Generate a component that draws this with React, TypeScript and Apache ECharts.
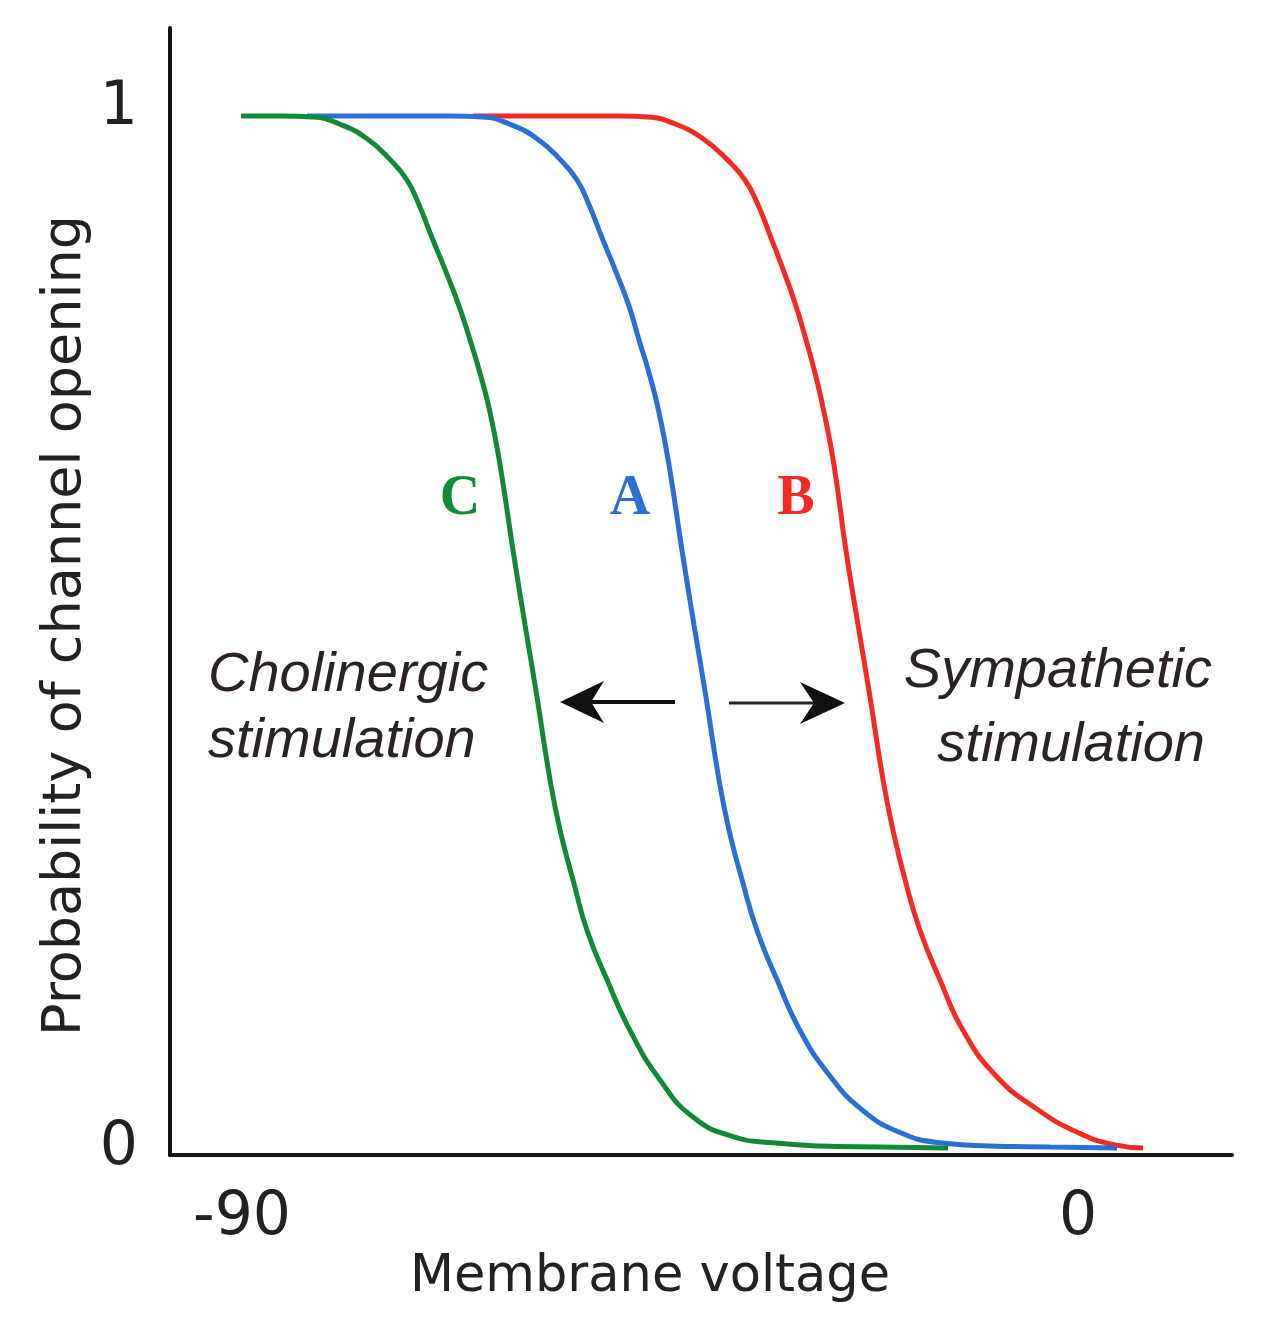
import React, { useEffect, useRef } from "react";
import * as echarts from "echarts";

// Membrane voltage (mV) vs probability of channel opening
const curveA_x = [-83.0, -73.0, -67.6, -64.05, -61.15, -58.24, -55.76, -53.93, -52.64, -51.24, -49.74, -48.34, -47.26, -46.18, -45.11, -44.03, -42.63, -41.34, -40.05, -38.65, -37.57, -36.17, -34.56, -32.4, -29.93, -26.81, -23.25, -19.16, -14.86, -9.47, -3.01, 4.2];
const curveA_y = [1.0, 1.0, 1.0, 0.999, 0.992, 0.978, 0.958, 0.938, 0.914, 0.882, 0.849, 0.816, 0.783, 0.751, 0.713, 0.662, 0.579, 0.507, 0.437, 0.357, 0.308, 0.26, 0.211, 0.163, 0.114, 0.071, 0.037, 0.015, 0.005, 0.002, 0.001, 0.0];

const curveB_x = [-65.13, -55.76, -49.31, -46.29, -43.28, -40.37, -37.79, -35.85, -34.45, -33.05, -31.65, -30.36, -29.28, -28.31, -27.34, -26.27, -24.98, -23.68, -22.39, -20.99, -19.92, -18.62, -17.01, -14.86, -12.38, -8.94, -4.63, 0.22, 3.98, 7.0];
const curveB_y = [1.0, 1.0, 1.0, 0.999, 0.992, 0.978, 0.958, 0.938, 0.914, 0.882, 0.849, 0.816, 0.783, 0.751, 0.713, 0.662, 0.579, 0.507, 0.437, 0.357, 0.308, 0.26, 0.211, 0.163, 0.114, 0.071, 0.039, 0.014, 0.003, 0.0];

const curveC_x = [-90.11, -85.91, -82.36, -79.45, -76.54, -74.07, -72.24, -70.94, -69.54, -68.04, -66.64, -65.45, -64.38, -63.3, -62.22, -60.82, -59.53, -58.24, -56.84, -55.76, -54.37, -52.86, -50.7, -48.23, -45.0, -41.45, -37.14, -32.83, -27.77, -21.32, -13.99];
const curveC_y = [1.0, 1.0, 0.999, 0.992, 0.978, 0.958, 0.938, 0.914, 0.882, 0.849, 0.816, 0.783, 0.751, 0.713, 0.662, 0.579, 0.507, 0.437, 0.357, 0.308, 0.26, 0.211, 0.163, 0.114, 0.066, 0.03, 0.011, 0.005, 0.002, 0.001, 0.0];

const xTickValues = [-90, 0];
const xTickLabels = ["-90", "0"];
const yTickValues = [0, 1];
const yTickLabels = ["0", "1"];

const curveNames = ["A", "B", "C"];
const curveColors = { A: "#2b6fd3", B: "#f42b24", C: "#138838" };

const zip = (xs: number[], ys: number[]) => xs.map((x, i) => [x, ys[i]]);

export default function App() {
  const ref = useRef<HTMLDivElement>(null);

  useEffect(() => {
    if (!ref.current) return;
    const chart = echarts.init(ref.current, null, { renderer: "svg" });

    const lineSeries = (name: string, data: number[][], z: number) => ({
      name,
      type: "line",
      data,
      showSymbol: false,
      smooth: 0.5,
      z,
      lineStyle: { color: (curveColors as any)[name], width: 5 },
      itemStyle: { color: (curveColors as any)[name] },
    });

    const italic = {
      fontFamily: "Liberation Sans",
      fontStyle: "italic",
      fontSize: 56,
      fill: "#2a2226",
      verticalAlign: "middle",
    };
    const letter = {
      fontFamily: "Liberation Serif",
      fontWeight: "bold",
      fontSize: 56,
      align: "center",
      verticalAlign: "middle",
    };

    chart.setOption({
      animation: false,
      backgroundColor: "#ffffff",
      grid: { left: 170, right: 46, top: 28, bottom: 177, containLabel: false },
      xAxis: {
        type: "value",
        min: -97.75,
        max: 16.58,
        splitLine: { show: false },
        axisTick: { show: false },
        axisLine: { show: true, onZero: false, lineStyle: { color: "#141414", width: 4 } },
        axisLabel: {
          customValues: xTickValues,
          formatter: (v: number) => xTickLabels[xTickValues.indexOf(v)] ?? "",
          fontFamily: "DejaVu Sans",
          fontSize: 60,
          color: "#222222",
          margin: 28,
        },
        name: "Membrane voltage",
        nameLocation: "middle",
        nameGap: 92,
        nameTextStyle: {
          fontFamily: "DejaVu Sans",
          fontSize: 51,
          color: "#222222",
          padding: [0, 102, 0, 0],
        },
      },
      yAxis: {
        type: "value",
        min: -0.00678,
        max: 1.0853,
        splitLine: { show: false },
        axisTick: { show: false },
        axisLine: { show: true, onZero: false, lineStyle: { color: "#141414", width: 4 } },
        axisLabel: {
          customValues: yTickValues,
          formatter: (v: number) =>
            v === 1 ? "{one|" + yTickLabels[1] + "}" : "{zero|" + yTickLabels[0] + "}",
          fontFamily: "DejaVu Sans",
          fontSize: 60,
          color: "#222222",
          margin: 32,
          rich: {
            one: { fontFamily: "DejaVu Sans", fontSize: 60, color: "#222222", padding: [0, 0, 26, 0] },
            zero: { fontFamily: "DejaVu Sans", fontSize: 60, color: "#222222", padding: [0, 0, 10, 0] },
          },
        },
        name: "Probability of channel opening",
        nameLocation: "middle",
        nameGap: 70,
        nameTextStyle: {
          fontFamily: "DejaVu Sans",
          fontSize: 54,
          color: "#222222",
          padding: [0, 68, 0, 0],
        },
      },
      series: [
        lineSeries("B", zip(curveB_x, curveB_y), 2),
        lineSeries("A", zip(curveA_x, curveA_y), 3),
        lineSeries("C", zip(curveC_x, curveC_y), 4),
      ],
      graphic: [
        { type: "text", x: 460, y: 495, style: { ...letter, text: curveNames[2], fill: curveColors.C } },
        { type: "text", x: 630, y: 495, style: { ...letter, text: curveNames[0], fill: curveColors.A } },
        { type: "text", x: 796, y: 495, style: { ...letter, text: curveNames[1], fill: curveColors.B } },
        { type: "text", x: 208, y: 671, style: { ...italic, text: "Cholinergic", align: "left" } },
        { type: "text", x: 208, y: 737, style: { ...italic, text: "stimulation", align: "left" } },
        { type: "text", x: 1212, y: 667, style: { ...italic, text: "Sympathetic", align: "right" } },
        { type: "text", x: 1205, y: 741, style: { ...italic, text: "stimulation", align: "right" } },
        // left arrow
        { type: "line", shape: { x1: 590, y1: 702, x2: 675, y2: 702 }, style: { stroke: "#111111", lineWidth: 4 } },
        { type: "polygon", shape: { points: [[560, 702], [604, 681], [591, 702], [604, 723]] }, style: { fill: "#111111" } },
        // right arrow
        { type: "line", shape: { x1: 729, y1: 703, x2: 815, y2: 703 }, style: { stroke: "#222222", lineWidth: 3 } },
        { type: "polygon", shape: { points: [[845, 703], [800, 682], [814, 703], [800, 724]] }, style: { fill: "#111111" } },
      ],
    });

    return () => chart.dispose();
  }, []);

  return (
    <div
      ref={ref}
      style={{ position: "absolute", left: 0, top: 0, width: 1278, height: 1332, background: "#ffffff" }}
    />
  );
}
